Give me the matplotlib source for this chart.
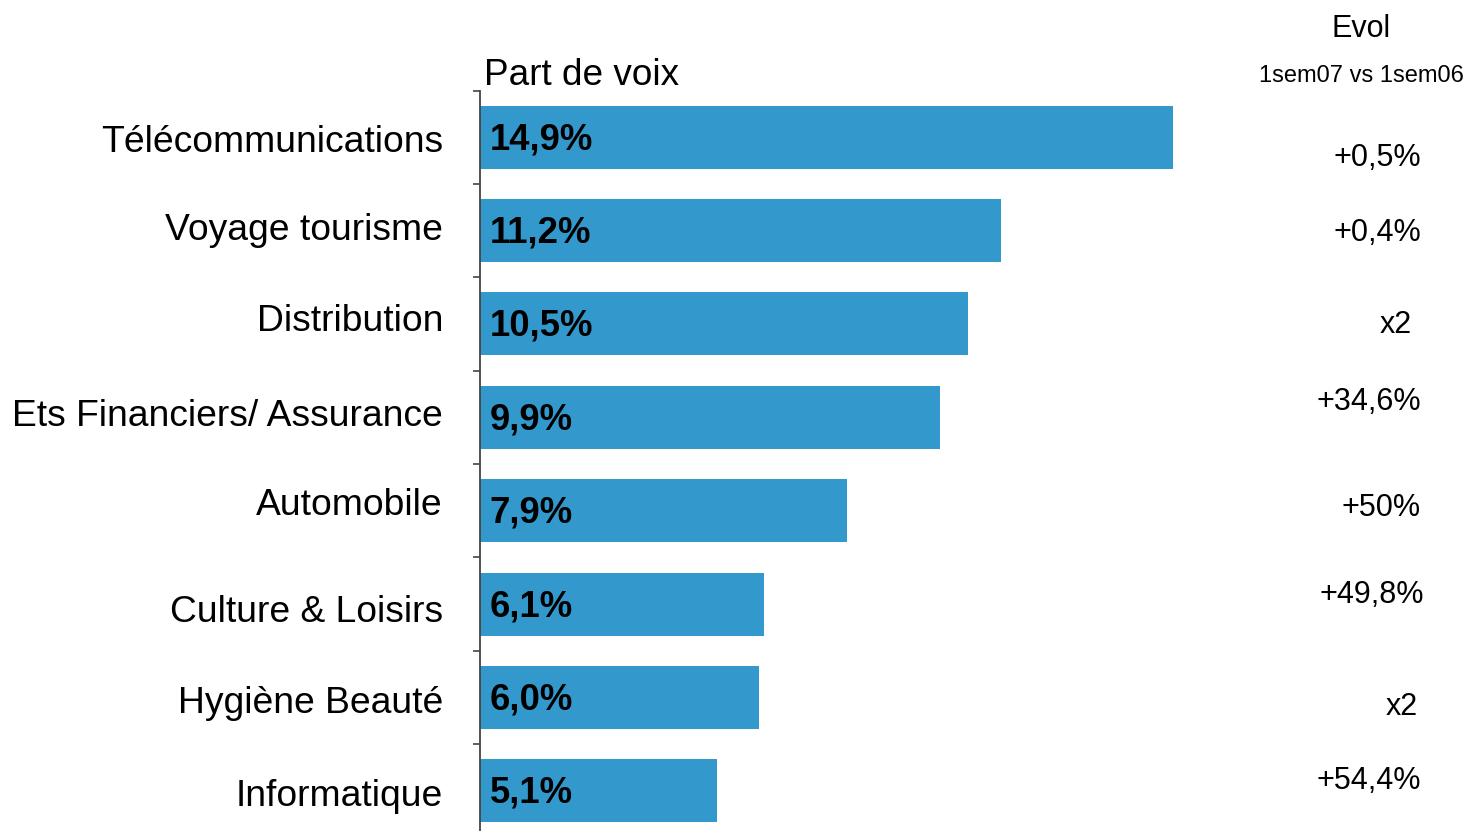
import matplotlib
matplotlib.use("Agg")
import matplotlib.pyplot as plt
from matplotlib.transforms import blended_transform_factory

plt.rcParams["font.family"] = ["Liberation Sans", "DejaVu Sans"]

# Data
categories = ["Télécommunications", "Voyage tourisme", "Distribution",
              "Ets Financiers/ Assurance", "Automobile", "Culture & Loisirs",
              "Hygiène Beauté", "Informatique"]
part_de_voix = [14.9, 11.2, 10.5, 9.9, 7.9, 6.1, 6.0, 5.1]
evolution = ["+0,5%", "+0,4%", "x2", "+34,6%", "+50%", "+49,8%", "x2", "+54,4%"]

# Layout (pixels at 100 dpi)
W, H = 1465, 831
row_pitch = 93.375
ax_left, ax_top = 480, 90.5
ax_right = 1250
px_per_unit = 46.51
label_base_off = [15.3, 9.9, 6.6, 8.2, 4.8, 18.4, 16.0, 14.7]
evol_base_off = [29.3, 10.9, 8.6, -7.8, 5.8, -0.6, 18.0, -2.3]
evol_right = [1421, 1421, 1412, 1421, 1421, 1424, 1418, 1421]

fig = plt.figure(figsize=(W / 100, H / 100), dpi=100)
n = len(categories)
ax_bottom_px = ax_top + n * row_pitch
ax = fig.add_axes([ax_left / W, 1 - ax_bottom_px / H,
                   (ax_right - ax_left) / W, n * row_pitch / H])

bar_color = "#3399CC"
ypos = list(range(n))
ax.barh(ypos, part_de_voix, height=0.675, color=bar_color, left=0)
ax.set_ylim(n - 0.5, -0.5)
ax.set_xlim(0, (ax_right - ax_left) / px_per_unit)

for s in ["top", "right", "bottom"]:
    ax.spines[s].set_visible(False)
ax.spines["left"].set_color("#444444")
ax.spines["left"].set_linewidth(1.3)
ax.set_xticks([])
ax.set_yticks([i - 0.5 for i in range(n + 1)])
ax.set_yticklabels([])
ax.tick_params(axis="y", direction="out", length=5, width=1.2, color="#444444")

trans = blended_transform_factory(fig.transFigure, ax.transData)
for i, (cat, v, ev) in enumerate(zip(categories, part_de_voix, evolution)):
    ax.annotate(cat, xy=(0, i), xycoords=("axes fraction", "data"),
                xytext=(-37, -label_base_off[i]), textcoords="offset pixels",
                ha="right", va="baseline", fontsize=26.8, color="black",
                annotation_clip=False)
    ax.annotate(f"{v:.1f}%".replace(".", ","), xy=(0, i), xycoords="data",
                xytext=(9.5, -12), textcoords="offset pixels",
                ha="left", va="baseline", fontsize=26.3, fontweight="bold",
                color="black")
    ax.annotate(ev, xy=(evol_right[i] / W, i), xycoords=trans,
                xytext=(0, -evol_base_off[i]), textcoords="offset pixels",
                ha="right", va="baseline", fontsize=22, color="black",
                annotation_clip=False)

fig.text(484 / W, 1 - 85 / H, "Part de voix", ha="left", va="baseline",
         fontsize=26.6, color="black")
fig.text(1361 / W, 1 - 37 / H, "Evol", ha="center", va="baseline",
         fontsize=22, color="black")
fig.text(1361 / W, 1 - 82 / H, "1sem07 vs 1sem06", ha="center", va="baseline",
         fontsize=17, color="black")

fig.savefig("out.png", dpi=100, facecolor="white")
